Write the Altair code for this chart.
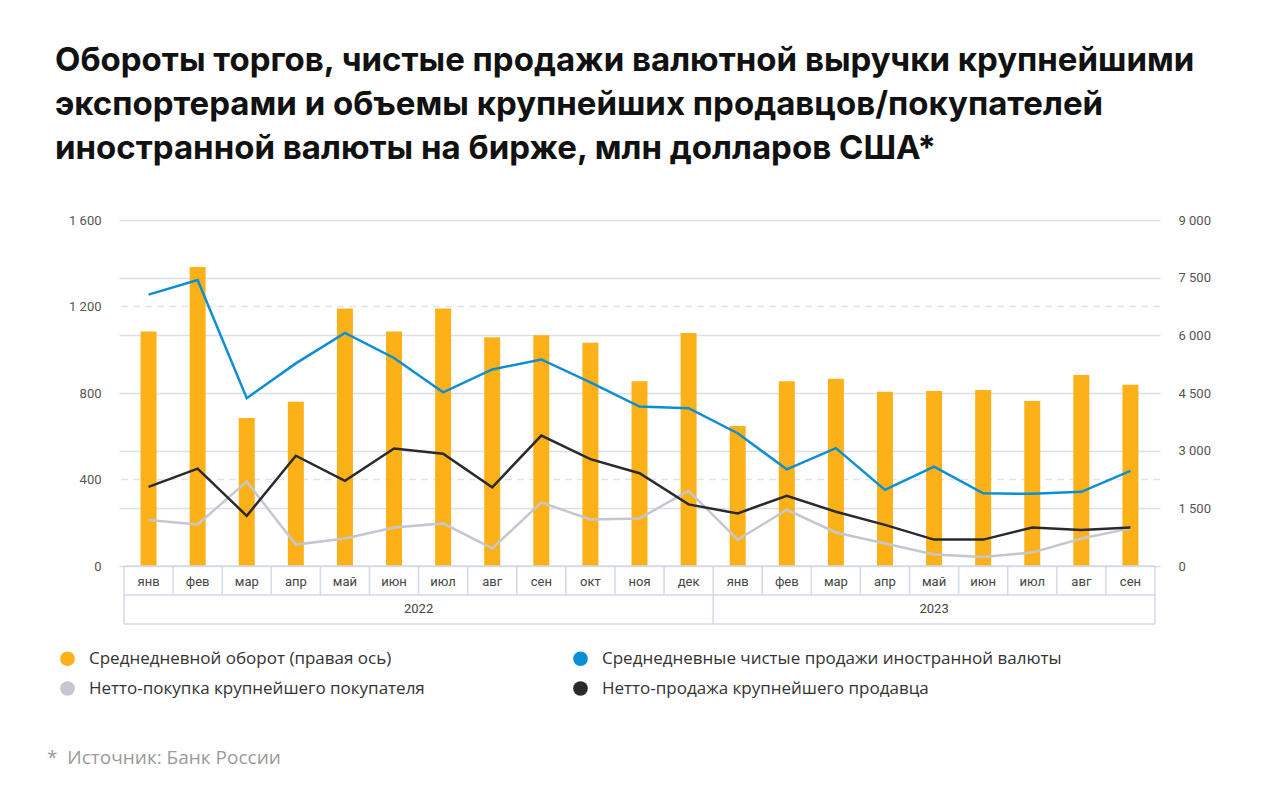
import altair as alt
import pandas as pd

# ---------------- data ----------------
months = ["янв", "фев", "мар", "апр", "май", "июн", "июл", "авг", "сен", "окт", "ноя", "дек",
          "янв", "фев", "мар", "апр", "май", "июн", "июл", "авг", "сен"]
years = ["2022"] * 12 + ["2023"] * 9

# Среднедневной оборот (правая ось), млн долл.
turnover = [6100, 7780, 3850, 4270, 6700, 6100, 6700, 5950, 6000, 5810, 4805, 6060,
            3640, 4805, 4870, 4530, 4550, 4580, 4290, 4970, 4715]
# Среднедневные чистые продажи иностранной валюты
net_sales = [1255, 1322, 776, 937, 1078, 962, 803, 909, 955, 849, 737, 730,
             614, 447, 545, 352, 459, 336, 334, 343, 440]
# Нетто-покупка крупнейшего покупателя
buyer = [213, 192, 390, 99, 127, 178, 197, 81, 294, 215, 220, 348,
         122, 260, 155, 104, 53, 42, 62, 127, 174]
# Нетто-продажа крупнейшего продавца
seller = [366, 450, 232, 510, 394, 543, 519, 364, 603, 494, 429, 285,
          243, 325, 251, 190, 122, 122, 178, 167, 178]

S_TURN = "Среднедневной оборот (правая ось)"
S_NET = "Среднедневные чистые продажи иностранной валюты"
S_BUY = "Нетто-покупка крупнейшего покупателя"
S_SELL = "Нетто-продажа крупнейшего продавца"
series_order = [S_TURN, S_NET, S_BUY, S_SELL]
series_colors = ["#fdb119", "#0a8fd5", "#c4c7cf", "#2a2a2e"]

left_ticks = [0, 400, 800, 1200, 1600]
right_ticks = [0, 1500, 3000, 4500, 6000, 7500, 9000]
left_dashed = [400, 1200]

title_lines = ["Обороты торгов, чистые продажи валютной выручки крупнейшими",
               "экспортерами и объемы крупнейших продавцов/покупателей",
               "иностранной валюты на бирже, млн долларов США*"]
source_text = "*\u00a0\u00a0Источник: Банк России"

# ---------------- tables ----------------
n = len(months)
idx = list(range(n))
bars_df = pd.DataFrame({"i": idx, "month": months, "year": years,
                        "value": turnover, "series": S_TURN})
lines_df = pd.concat([
    pd.DataFrame({"i": idx, "value": v, "series": s})
    for s, v in [(S_NET, net_sales), (S_BUY, buyer), (S_SELL, seller)]
])
month_bounds = pd.DataFrame({"b": [i - 0.5 for i in range(n + 1)]})
year_list = sorted(set(years))
year_df = pd.DataFrame({
    "year": year_list,
    "c": [sum(i for i in idx if years[i] == y) / years.count(y) for y in year_list],
})
year_bounds = pd.DataFrame({"b": [-0.5] + [years.index(y) - 0.5 for y in year_list[1:]] + [n - 0.5]})
span_df = pd.DataFrame({"x0": [-0.5], "x1": [n - 0.5]})
dash_df = pd.DataFrame({"v": left_dashed})
one_df = pd.DataFrame({"t": [0]})

W, H = 1041, 346
xdom = alt.Scale(domain=[-0.5, n - 0.5], nice=False, zero=False)
X = lambda f: alt.X(f, scale=xdom, axis=None)
grid_col = "#dcdfe8"
table_col = "#d3d9e8"
num_expr = "replace(format(datum.value, ','), ',', ' ')"

color_scale = alt.Scale(domain=series_order, range=series_colors)

dashed = alt.Chart(dash_df).mark_rule(strokeDash=[7, 5], color="#e4e4e6", strokeWidth=1.5).encode(
    y=alt.Y("v:Q", scale=alt.Scale(domain=[0, 1600], nice=False), axis=None),
)

bars = alt.Chart(bars_df).mark_bar(size=16).encode(
    x=X("i:Q"),
    y=alt.Y("value:Q", scale=alt.Scale(domain=[0, 9000], nice=False),
            axis=alt.Axis(orient="right", values=right_ticks, grid=True, gridColor=grid_col,
                          gridWidth=1.5, domain=False, ticks=False, labelPadding=18,
                          labelExpr=num_expr, title=None, labelFont="Roboto",
                          labelFontSize=13, labelColor="#555")),
    color=alt.Color("series:N", scale=color_scale, legend=alt.Legend(
        title=None, orient="none", legendX=-60, legendY=430, columns=2, direction="horizontal",
        symbolType="circle", symbolSize=215, symbolStrokeWidth=0,
        labelFont="Open Sans", labelFontSize=17, labelColor="#333",
        columnPadding=147, rowPadding=12, labelOffset=13, labelLimit=700, padding=0)),
)

lines = alt.Chart(lines_df).mark_line(strokeWidth=2.5).encode(
    x=X("i:Q"),
    y=alt.Y("value:Q", scale=alt.Scale(domain=[0, 1600], nice=False),
            axis=alt.Axis(orient="left", values=left_ticks, grid=False, domain=False, ticks=False,
                          labelPadding=18, labelExpr=num_expr, title=None, labelFont="Roboto",
                          labelFontSize=13, labelColor="#555")),
    color=alt.Color("series:N", scale=color_scale, legend=None),
    order=alt.Order("i:Q"),
)

rule_kw = dict(color=table_col, strokeWidth=1.5)
month_sep = alt.Chart(month_bounds).mark_rule(**rule_kw).encode(
    x=X("b:Q"), y=alt.value(H), y2=alt.value(H + 29))
year_sep = alt.Chart(year_bounds).mark_rule(**rule_kw).encode(
    x=X("b:Q"), y=alt.value(H + 29), y2=alt.value(H + 58))
hlines = [alt.Chart(span_df).mark_rule(**rule_kw).encode(
    x=X("x0:Q"), x2="x1:Q", y=alt.value(yy)) for yy in (H, H + 29, H + 58)]

month_text = alt.Chart(bars_df).mark_text(font="Roboto", fontSize=13, color="#444",
                                          baseline="middle").encode(
    x=X("i:Q"), y=alt.value(H + 16), text="month:N")
year_text = alt.Chart(year_df).mark_text(font="Roboto", fontSize=13, color="#444",
                                         baseline="middle").encode(
    x=X("c:Q"), y=alt.value(H + 43), text="year:N")

title = alt.Chart(one_df).mark_text(text=title_lines, lineHeight=44, align="left",
                                    baseline="alphabetic", font="Inter", fontSize=33,
                                    fontWeight="bold", color="#111").encode(
    x=alt.value(-64), y=alt.value(-149))
source = alt.Chart(one_df).mark_text(text=source_text, align="left", baseline="middle",
                                     font="Open Sans", fontSize=19, color="#9a9a9a").encode(
    x=alt.value(-72), y=alt.value(538))

chart = alt.layer(
    dashed, bars, lines, month_sep, year_sep, *hlines, month_text, year_text, title, source
).resolve_scale(y="independent").properties(
    width=W, height=H,
    padding={"left": 111, "top": 212, "right": 100, "bottom": 225},
    autosize=alt.AutoSizeParams(type="none"),
    background="white",
).configure_view(stroke=None)

chart.save("out.html", embed_options={"renderer": "svg", "actions": False})
